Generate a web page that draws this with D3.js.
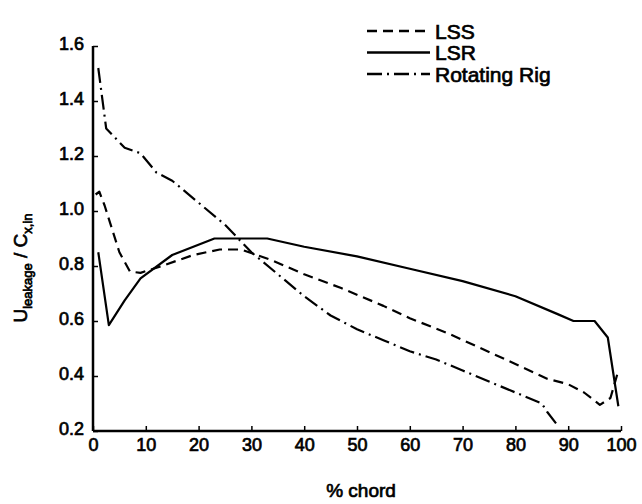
<!DOCTYPE html>
<html>
<head>
<meta charset="utf-8">
<script src="https://cdn.jsdelivr.net/npm/d3@7"></script>
<style>
  body { margin: 0; background: #fff; }
  text { font-family: "Liberation Sans", Arial, sans-serif; fill: #000; stroke: #000; stroke-width: 0.7px; }
</style>
</head>
<body>
<div id="chart-area"></div>
<script>
// leakage velocity vs % chord
var xTicks = [0, 10, 20, 30, 40, 50, 60, 70, 80, 90, 100];
var yTicks = [0.2, 0.4, 0.6, 0.8, 1.0, 1.2, 1.4, 1.6];

var lssX = [0.5, 1.2, 2.2, 5, 7, 9, 13, 19, 24, 28, 34, 40, 47, 55, 60, 67, 77, 86, 90, 93, 96, 98, 99.5];
var lssY = [1.06, 1.07, 1.02, 0.85, 0.78, 0.775, 0.80, 0.84, 0.86, 0.86, 0.82, 0.77, 0.72, 0.655, 0.61, 0.557, 0.47, 0.39, 0.37, 0.34, 0.295, 0.32, 0.42];

var lsrX = [1, 3, 6, 9, 15, 23, 33, 40, 50, 60, 70, 80, 88, 91, 95, 97.5, 99.5];
var lsrY = [0.85, 0.585, 0.675, 0.755, 0.84, 0.90, 0.90, 0.87, 0.835, 0.79, 0.745, 0.69, 0.625, 0.60, 0.60, 0.54, 0.29];

var rigX = [1, 2.5, 3.5, 6, 9, 12, 15, 20, 25, 30, 35, 40, 45, 50, 55, 60, 65, 70, 75, 80, 85, 86, 88];
var rigY = [1.52, 1.30, 1.28, 1.23, 1.21, 1.14, 1.11, 1.03, 0.95, 0.85, 0.77, 0.69, 0.62, 0.57, 0.53, 0.49, 0.46, 0.42, 0.38, 0.34, 0.30, 0.27, 0.22];

var seriesNames = ["LSS", "LSR", "Rotating Rig"];
var dashes = ["10,6", null, "15,5,2,5"];

var svg = d3.select("#chart-area")
    .append("svg")
    .attr("width", 642)
    .attr("height", 504);

var x = d3.scaleLinear().domain([0, 100]).range([93, 621]);
var y = d3.scaleLinear().domain([0.2, 1.6]).range([431, 46]);

var series = [
    lssX.map((d, i) => [d, lssY[i]]),
    lsrX.map((d, i) => [d, lsrY[i]]),
    rigX.map((d, i) => [d, rigY[i]])
];

// axes
var xAxis = d3.axisBottom(x).tickValues(xTicks).tickSize(-5).tickPadding(7).tickFormat(d3.format("d"));
var yAxis = d3.axisLeft(y).tickValues(yTicks).tickSize(-5).tickPadding(9).tickFormat(d3.format(".1f"));

var gx = svg.append("g").attr("transform", "translate(0," + y(0.2) + ")").call(xAxis);
var gy = svg.append("g").attr("transform", "translate(" + x(0) + ",0)").call(yAxis);

[gx, gy].forEach((g) => {
    g.select(".domain").attr("stroke", "#000").attr("stroke-width", 2.5);
    g.selectAll(".tick line").attr("stroke", "#000").attr("stroke-width", 1.5);
    g.selectAll(".tick text")
        .attr("font-size", 18)
        .attr("font-family", "Liberation Sans, Arial, sans-serif");
});
gy.selectAll(".tick text").attr("dy", "0.2em");
// plain domain lines, no end caps
gx.select(".domain").attr("d", "M" + x(0) + ",0H" + x(100));
gy.select(".domain").attr("d", "M0," + y(1.6) + "V" + y(0.2));

// lines
var line = d3.line().x((d) => x(d[0])).y((d) => y(d[1]));

series.forEach((s, i) => {
    svg.append("path")
        .datum(s)
        .attr("d", line)
        .attr("fill", "none")
        .attr("stroke", "#000")
        .attr("stroke-width", 2.2)
        .attr("stroke-linejoin", "round")
        .attr("stroke-dasharray", dashes[i]);
});

// legend
var legend = svg.append("g");
seriesNames.forEach((name, i) => {
    var ly = 31 + i * 21.5;
    legend.append("line")
        .attr("x1", 367).attr("x2", 430)
        .attr("y1", ly).attr("y2", ly)
        .attr("stroke", "#000")
        .attr("stroke-width", 2.4)
        .attr("stroke-dasharray", dashes[i]);
    legend.append("text")
        .attr("x", 435)
        .attr("y", ly)
        .attr("dy", "0.36em")
        .attr("font-size", 21)
        .text(name);
});

// axis titles
svg.append("text")
    .attr("x", x(50) + 4)
    .attr("y", 497)
    .attr("text-anchor", "middle")
    .attr("font-size", 19)
    .text("% chord");

var yt = svg.append("text")
    .attr("transform", "translate(27,268) rotate(-90)")
    .attr("text-anchor", "middle")
    .attr("font-size", 19);
yt.append("tspan").text("U");
yt.append("tspan").attr("font-size", 13).attr("dy", 5).text("leakage");
yt.append("tspan").attr("dy", -5).text(" / C");
yt.append("tspan").attr("font-size", 13).attr("dy", 5).text("x,in");
</script>
</body>
</html>
